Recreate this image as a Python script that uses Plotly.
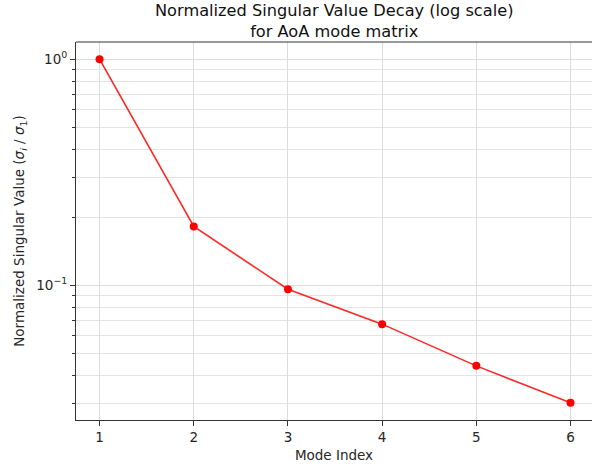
import plotly.graph_objects as go

mode_index = [1, 2, 3, 4, 5, 6]
normalized_sv = [1.0, 0.182, 0.096, 0.0673, 0.044, 0.0302]

major_ticks = [1.0, 0.1]
major_text = ["10<sup>0</sup>", "10<sup>\u22121</sup>"]
minor_ticks = [0.03, 0.04, 0.05, 0.06, 0.07, 0.08, 0.09,
               0.2, 0.3, 0.4, 0.5, 0.6, 0.7, 0.8, 0.9]

font = "DejaVu Sans"

fig = go.Figure()
fig.add_trace(go.Scatter(
    x=mode_index, y=normalized_sv, mode="lines+markers",
    line=dict(color="rgba(255,0,0,0.85)", width=1.6),
    marker=dict(color="#ff0000", size=8),
    showlegend=False,
))

fig.update_layout(
    width=592, height=470,
    margin=dict(l=76, r=0, t=42, b=50),
    plot_bgcolor="white", paper_bgcolor="white",
    font=dict(family=font, color="#262626", size=13.5),
)

fig.add_annotation(
    text="Normalized Singular Value Decay (log scale)<br>for AoA mode matrix",
    xref="paper", yref="paper", x=0.5, y=1, xanchor="center", yanchor="bottom",
    yshift=-1, showarrow=False,
    font=dict(family=font, size=16.2, color="#111111"),
)

fig.update_xaxes(
    range=[0.75, 6.228], automargin=False,
    tickvals=mode_index, ticktext=[str(v) for v in mode_index],
    ticks="outside", ticklen=5, tickcolor="#333333",
    showline=True, linecolor="#333333", linewidth=1,
    showgrid=True, gridcolor="#dcdcdc", gridwidth=1,
    zeroline=False,
    title=dict(text="Mode Index", font=dict(family=font, size=13.5), standoff=6),
    tickfont=dict(family=font, size=13.5),
)

fig.update_yaxes(
    type="log", range=[-1.596, 0.076], automargin=False,
    tickvals=major_ticks, ticktext=major_text,
    ticks="outside", ticklen=5, tickcolor="#333333",
    showline=True, linecolor="#333333", linewidth=1, mirror=False,
    showgrid=True, gridcolor="#dcdcdc", gridwidth=1,
    zeroline=False,
    minor=dict(tickvals=minor_ticks, ticks="outside", ticklen=3,
               tickcolor="#333333", showgrid=True, gridcolor="#e4e4e4", gridwidth=1),
    title=dict(text="Normalized Singular Value (<i>\u03c3<sub>i</sub></i> / <i>\u03c3</i><sub>1</sub>)",
               font=dict(family=font, size=13.5), standoff=8),
    tickfont=dict(family=font, size=13.5),
)

# top spine
fig.add_shape(type="line", xref="paper", yref="paper", x0=0, x1=1, y0=1, y1=1,
              line=dict(color="#333333", width=1))

fig.write_html("out.html", post_script="document.body.style.margin='0';",
               config={"displayModeBar": False})
